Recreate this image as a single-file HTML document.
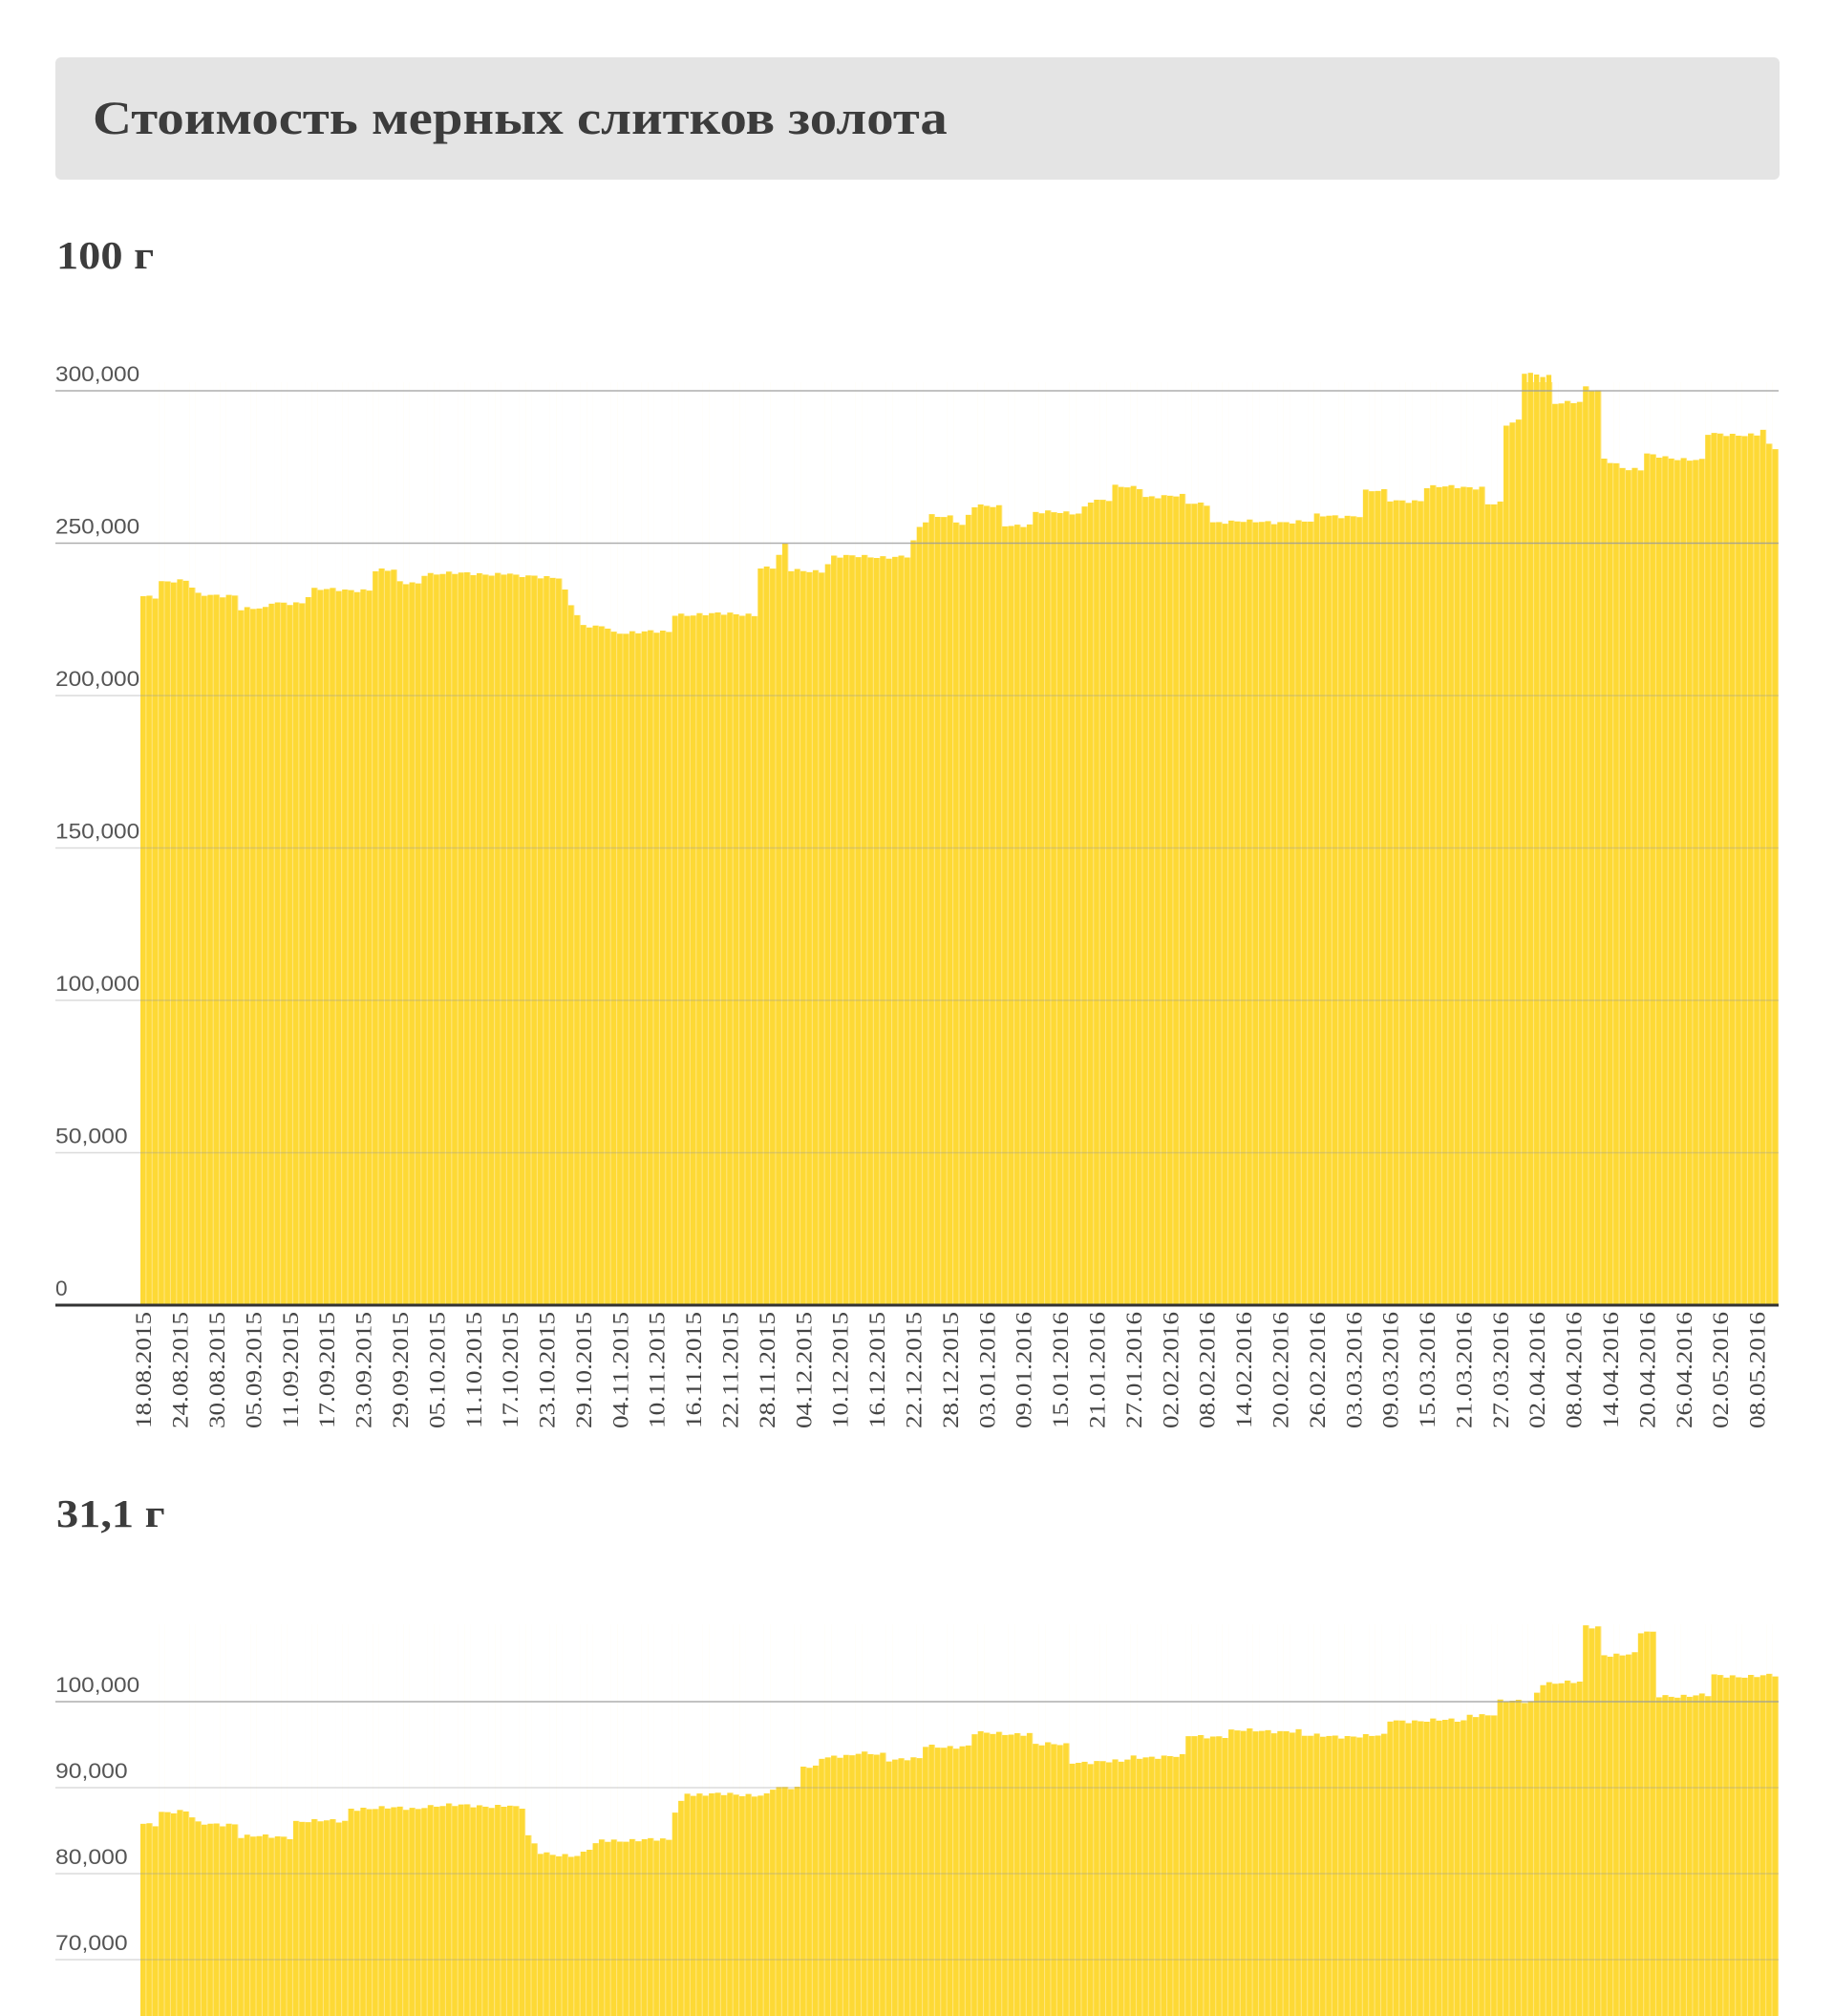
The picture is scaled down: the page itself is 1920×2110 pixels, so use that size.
<!DOCTYPE html>
<html><head><meta charset="utf-8">
<style>
html,body{margin:0;padding:0;background:#fff;width:1920px;height:2110px;overflow:hidden}
.box{position:absolute;left:58px;top:60px;width:1805px;height:128px;background:#e4e4e4;border-radius:6px}
.title{position:absolute;left:97px;top:94px;font:bold 50px "Liberation Serif",serif;color:#3c3c3c;white-space:nowrap;transform:scaleX(1.135);transform-origin:0 0}
.h2{position:absolute;left:59px;font:bold 41px "Liberation Serif",serif;color:#3c3c3c;transform:scaleX(1.13);transform-origin:0 0}
svg{position:absolute;left:0;top:0}
</style></head><body>
<div class="box"></div>
<div class="title">Стоимость мерных слитков золота</div>
<div class="h2" style="top:243px">100 г</div>
<div class="h2" style="top:1560px">31,1 г</div>
<svg id="s" width="1920" height="2110" xmlns="http://www.w3.org/2000/svg"></svg>
<script>
const N=268,X0=147,DW=(1862-147)/N;
const k1=[[0,232.6],[2,232.6],[3,237.6],[7,237.6],[9,233],[15,233],[16,228.4],[20,228.4],[21,230.5],[26,230.5],[28,234.7],[37,234.7],[38,241],[41,241],[42,237],[45,237],[46,240],[60,240],[61,239],[68,239],[70,230],[72,222.5],[76,222.5],[77,220.8],[86,220.8],[87,226.7],[100,226.7],[101,242],[103,242],[105,249.4],[106,241],[111,241],[113,245.6],[125,245.6],[127,255],[129,259],[132,259],[134,256],[136,262],[140,262],[141,256],[145,256],[146,260],[153,260],[155,264],[158,264],[159,268.4],[163,268.4],[164,265.4],[170,265.4],[171,263],[174,263],[175,257],[191,257],[192,259],[199,259],[200,267],[203,267],[204,264],[209,264],[210,268.4],[219,268.4],[220,263],[222,263],[223,288.6],[225,290],[226,306],[230,305],[231,296],[235,296],[236,301],[238,300],[239,278],[242,275],[243,274],[245,274],[246,279],[255,277],[256,285.7],[264,285.7],[265,287],[266,282],[267,281]];
const k2=[[0,85.8],[2,85.8],[3,87.2],[7,87.2],[9,85.8],[15,85.8],[16,84.3],[24,84.3],[25,86.1],[33,86.1],[34,87.6],[45,87.6],[46,87.9],[60,87.9],[61,87.6],[62,87.6],[63,84.3],[65,82.5],[71,82],[72,82.3],[75,83.9],[86,83.9],[87,87.3],[89,89.5],[90,89.2],[102,89.2],[103,89.9],[107,89.9],[108,92.5],[110,92.5],[111,93.6],[116,93.6],[117,94],[121,94],[122,93.3],[127,93.3],[128,94.8],[135,94.8],[136,96.3],[145,96.3],[146,95],[151,95],[152,93],[160,93],[162,93.6],[170,93.6],[171,96],[177,96],[178,96.6],[189,96.6],[190,96],[203,96],[204,97.8],[216,97.8],[217,98.5],[221,98.5],[222,100],[227,100],[229,102.2],[235,102.2],[236,108.7],[238,108.7],[239,105.5],[244,105.5],[245,108],[247,108],[248,100.7],[256,100.7],[257,103],[267,103]];
function val(k,d){for(let i=0;i<k.length-1;i++){if(d>=k[i][0]&&d<=k[i+1][0]){const t=(d-k[i][0])/(k[i+1][0]-k[i][0]||1);return k[i][1]+t*(k[i+1][1]-k[i][1]);}}return k[k.length-1][1];}
function noise(d,a){return a*(Math.sin(d*2.3)*0.6+Math.sin(d*5.7)*0.4);}
let h='';
const Y0=1366,PX1=(1366-409)/300;
h+=`<rect x="${X0}" y="400" width="${N*DW}" height="${Y0-400}" fill="#ffe57a"/>`;
for(let d=0;d<N;d++){const v=val(k1,d)+noise(d,0.8),y=Y0-v*PX1;h+=`<rect x="${(X0+d*DW).toFixed(2)}" y="${y.toFixed(1)}" width="${(DW-1.1).toFixed(2)}" height="${(Y0-y).toFixed(1)}" fill="#fdd935"/>`;h+=`<rect x="${(X0+d*DW).toFixed(2)}" y="400" width="${(DW+0.2).toFixed(2)}" height="${(y-400).toFixed(1)}" fill="#fff"/>`;}
const labs1=['300,000','250,000','200,000','150,000','100,000','50,000','0'];
labs1.forEach((l,i)=>{const y=409+i*159.5;if(i<6)h+=`<line x1="58" x2="1862" y1="${y}" y2="${y}" stroke="#9a9a9a" stroke-width="1.5" opacity="${i<2?0.8:0.35}"/>`;const tl=i<5?(l.length*12.6):(l.length*12.6);h+=`<text x="58" y="${y-10}" font-family="Liberation Sans,sans-serif" font-size="22" fill="#555" textLength="${tl}" lengthAdjust="spacingAndGlyphs">${l}</text>`;});
h+=`<line x1="58" x2="1862" y1="1366" y2="1366" stroke="#333" stroke-width="3"/>`;
const start=new Date(2015,7,18);
for(let i=0;i<=44;i++){const dt=new Date(start.getTime()+i*6*86400000+3600000*3);const s=String(dt.getDate()).padStart(2,'0')+'.'+String(dt.getMonth()+1).padStart(2,'0')+'.'+dt.getFullYear();const x=X0+i*6*DW+DW/2+8;h+=`<text transform="translate(${x.toFixed(1)},1373) rotate(-90)" text-anchor="end" font-family="Liberation Serif,serif" font-size="23" fill="#444" textLength="122" lengthAdjust="spacingAndGlyphs">${s}</text>`;}
const B2=2110,Y100=1781,PX2=9;
h+=`<rect x="${X0}" y="1700" width="${N*DW}" height="${B2-1700}" fill="#ffe57a"/>`;
for(let d=0;d<N;d++){const v=val(k2,d)+noise(d,0.3),y=Y100+(100-v)*PX2;h+=`<rect x="${(X0+d*DW).toFixed(2)}" y="${y.toFixed(1)}" width="${(DW-1.1).toFixed(2)}" height="${(B2-y).toFixed(1)}" fill="#fdd935"/>`;h+=`<rect x="${(X0+d*DW).toFixed(2)}" y="1700" width="${(DW+0.2).toFixed(2)}" height="${(y-1700).toFixed(1)}" fill="#fff"/>`;}
['100,000','90,000','80,000','70,000'].forEach((l,i)=>{const y=Y100+i*90;h+=`<line x1="58" x2="1862" y1="${y}" y2="${y}" stroke="#9a9a9a" stroke-width="1.5" opacity="${i==0?0.8:0.35}"/>`;h+=`<text x="58" y="${y-10}" font-family="Liberation Sans,sans-serif" font-size="22" fill="#555" textLength="${l.length*12.6}" lengthAdjust="spacingAndGlyphs">${l}</text>`;});
document.getElementById('s').innerHTML=h;
</script>
</body></html>
